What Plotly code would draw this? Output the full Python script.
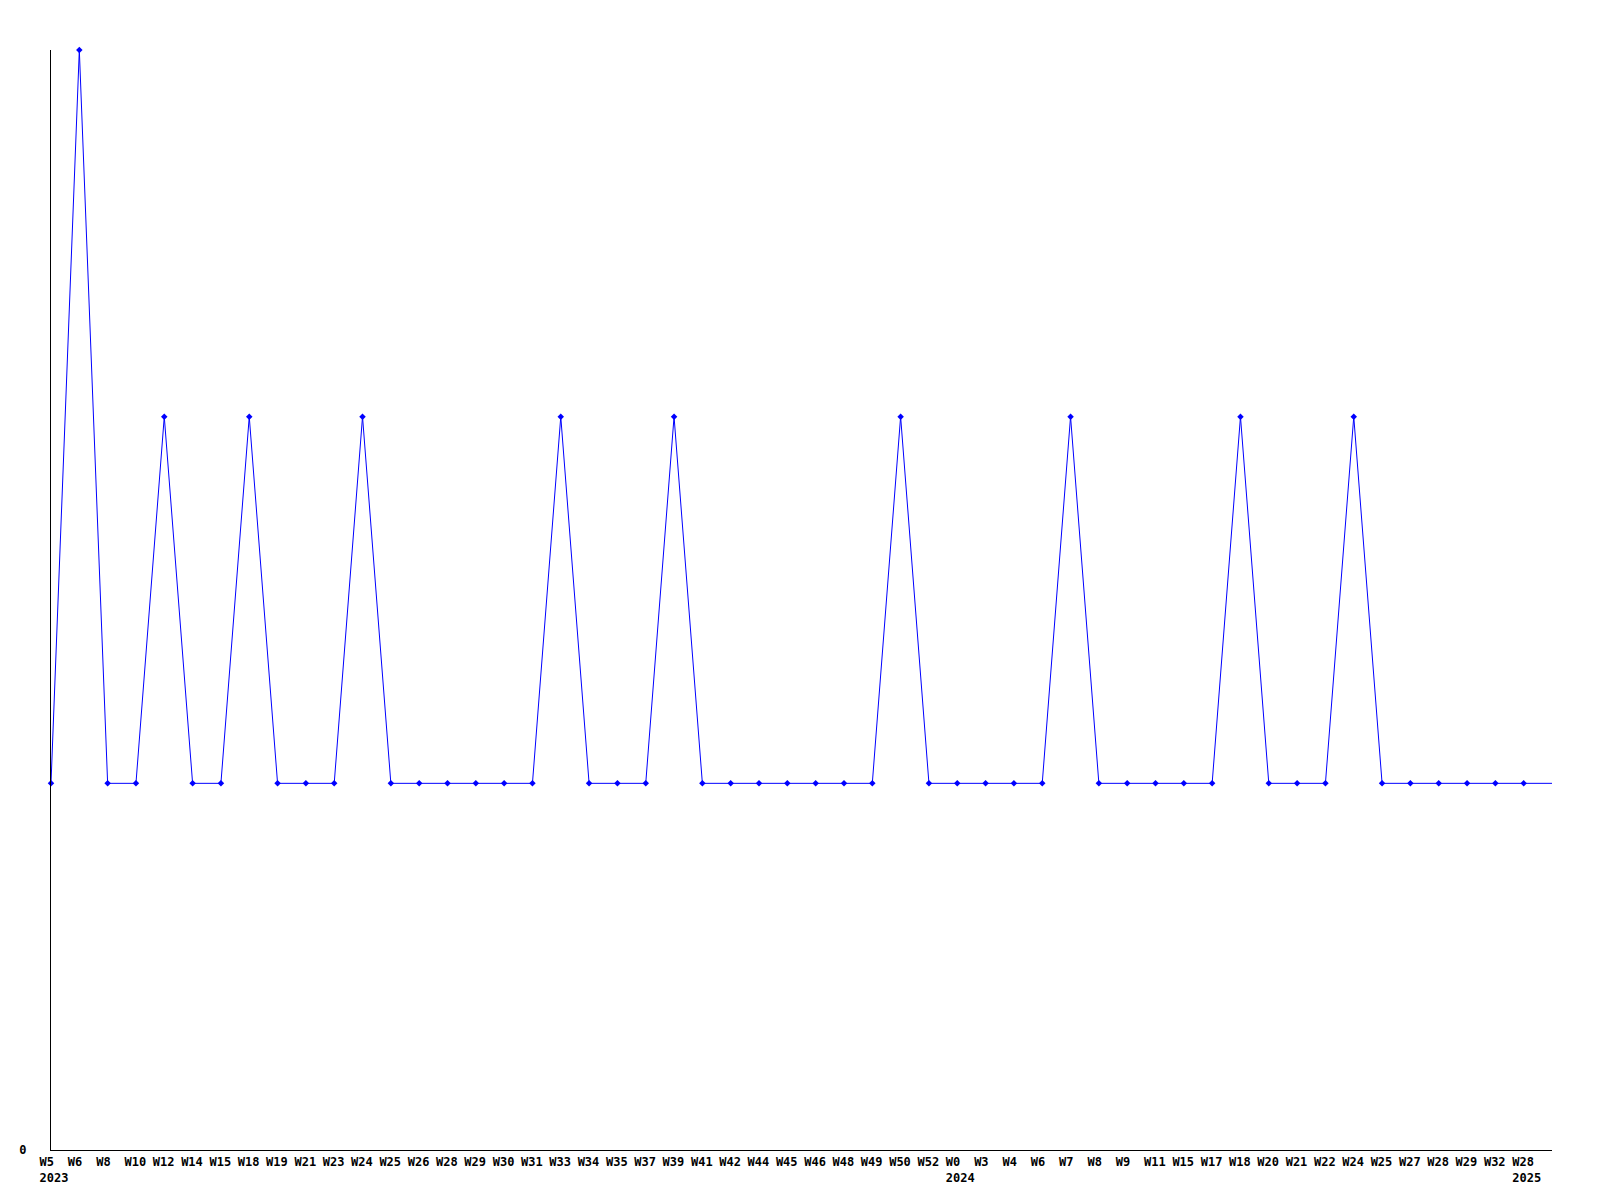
import plotly.graph_objects as go

weeks = ["W5", "W6", "W8", "W10", "W12", "W14", "W15", "W18", "W19", "W21", "W23", "W24", "W25",
         "W26", "W28", "W29", "W30", "W31", "W33", "W34", "W35", "W37", "W39", "W41", "W42", "W44",
         "W45", "W46", "W48", "W49", "W50", "W52",
         "W0", "W3", "W4", "W6", "W7", "W8", "W9", "W11", "W15", "W17", "W18", "W20", "W21", "W22",
         "W24", "W25", "W27", "W28", "W29", "W32",
         "W28"]
years = ["2023"] + [""] * 31 + ["2024"] + [""] * 19 + ["2025"]
values = [1, 3, 1, 1, 2, 1, 1, 2, 1, 1, 1, 2, 1,
          1, 1, 1, 1, 1, 2, 1, 1, 1, 2, 1, 1, 1,
          1, 1, 1, 1, 2, 1,
          1, 1, 1, 1, 2, 1, 1, 1, 1, 1, 2, 1, 1, 1,
          2, 1, 1, 1, 1, 1,
          1]
# the line continues to the plot edge after the last labelled week
tail_value = 1

NB = "\u00a0"
def pad(s, n=4):
    return s + NB * (n - len(s))

ticktext = []
for w, y in zip(weeks, years):
    if y:
        ticktext.append(pad(w) + "<br>" + pad(y))
    else:
        ticktext.append(pad(w))

xs = list(range(len(values)))
fig = go.Figure()
fig.add_trace(go.Scatter(
    x=xs + [len(values)], y=values + [tail_value],
    mode="lines",
    line=dict(color="#0000ff", width=1),
    hoverinfo="skip",
))
fig.add_trace(go.Scatter(
    x=xs, y=values,
    mode="markers",
    marker=dict(color="#0000ff", size=5, symbol="diamond"),
    cliponaxis=False,
))

font = dict(family="DejaVu Sans Mono", size=12, color="#000000", weight="bold")
fig.update_layout(
    width=1600, height=1200,
    margin=dict(l=43, r=56, t=42, b=58),
    paper_bgcolor="white", plot_bgcolor="white",
    showlegend=False,
    xaxis=dict(
        range=[0, 53], tickmode="array", tickvals=xs, ticktext=ticktext,
        showgrid=False, zeroline=False, showline=True, linecolor="black", linewidth=1,
        ticks="", tickfont=font, tickangle=0, ticklabelshift=3, ticklabelstandoff=1,
    ),
    yaxis=dict(
        range=[0, 3], tickmode="array", tickvals=[0], ticktext=["0"],
        showgrid=False, zeroline=False, showline=True, linecolor="black", linewidth=1,
        ticks="", tickfont=font, ticklabelstandoff=21,
    ),
)
fig.write_html("out.html")
